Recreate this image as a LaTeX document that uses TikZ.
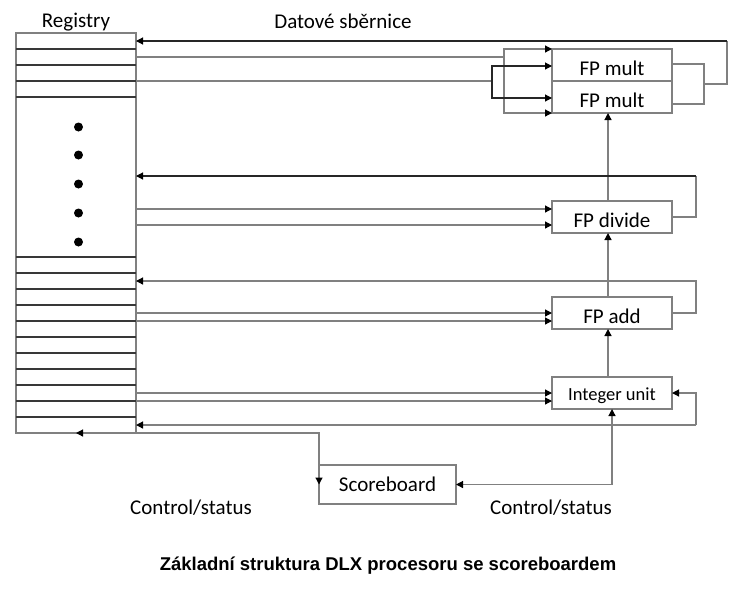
\documentclass[tikz,border=0pt]{standalone}
\usepackage{fontspec}
\setmainfont{Carlito}
\newfontfamily\capfont{Liberation Sans}
\usetikzlibrary{arrows.meta}
\begin{document}
\begin{tikzpicture}[x=1pt,y=-1pt,
  gline/.style={draw=black!50, line width=1.2pt},
  kline/.style={draw=black!85, line width=1.1pt},
  regline/.style={draw=black!78, line width=1.3pt},
  tip/.style={-{Triangle[length=7pt,width=7pt,color=black]}},
  tips/.style={{Triangle[length=7pt,width=7pt,color=black]}-{Triangle[length=7pt,width=7pt,color=black]}},
  unit/.style={draw=black!50, line width=1.2pt, minimum width=120pt, minimum height=32pt, inner sep=0pt, outer sep=0pt, font=\fontsize{21}{25}\selectfont, text height=20pt, text depth=0pt},
  lbl/.style={font=\fontsize{21}{25}\selectfont, inner sep=0pt},
]
\useasboundingbox (0,0) rectangle (735,590);

% register file
\node[unit, minimum width=120pt, minimum height=400pt] (reg) at (76,233) {};
\foreach \y in {49,65,81,97,257,273,...,417}
  \draw[regline] (reg.west |- 0,\y) -- (reg.east |- 0,\y);
\foreach \y in {127,155,184,213,242}
  \fill (78.5,\y) circle[radius=4.5pt];

% units
\node[unit] (m1) at (612,65) {FP mult};
\node[unit] (m2) at (612,97) {FP mult};
\node[unit] (div) at (612,217) {FP divide};
\node[unit] (add) at (612,313) {FP add\hspace{12pt}};
\node[unit, font=\fontsize{18.5}{22}\selectfont, text height=15.4pt] (int) at (612,393) {Integer unit\hspace{12pt}};
\node[unit, minimum width=137pt, minimum height=39pt, text height=13pt] (sb) at (387.5,484.5) {Scoreboard};

% labels
\node[lbl] (tReg) at (76,22) {Registry};
\node[lbl] (tBus) at (343,21) {Datové sběrnice};
\node[lbl] (tCs1) at (191,508) {Control/status};
\node[lbl] (tCs2) at (551,508) {Control/status};
\node[font=\capfont\bfseries\fontsize{18.5}{22}\selectfont, inner sep=0pt] (cap) at (388,566) {Základní struktura DLX procesoru se scoreboardem};

% helper coordinates
\coordinate (vx) at (608,0);
\coordinate (rx) at (696,0);
\coordinate (mo1) at (704,64);
\coordinate (mo2) at (704,104);
\coordinate (mj) at (704,84);
\coordinate (mt) at (727,84);
\coordinate (f1) at (504,57);
\coordinate (f2) at (492,81);
\coordinate (ib) at (696,425);

% FP mult outputs back to registers
\draw[gline] (m1.east |- mo1) -- (mo1) -- (mo2) -- (m2.east |- mo2);
\draw[gline] (mj) -- (mt) -- (mt |- 0,41);
\draw[kline,tip] (mt |- 0,41) -- (reg.east |- 0,41);

% FP mult inputs
\draw[gline] (reg.east |- f1) -- (f1);
\draw[gline,tip] (f1) |- (m1.north west);
\draw[gline,tip] (f1) |- (m2.south west);
\draw[gline] (reg.east |- f2) -- (f2);
\draw[kline,tip] (f2) |- (m1.west |- 0,66);
\draw[kline,tip] (f2) |- (m2.west |- 0,98);

% other unit inputs
\foreach \y in {209,225}
  \draw[gline,tip] (reg.east |- 0,\y) -- (div.west |- 0,\y);
\foreach \y in {313,321}
  \draw[gline,tip] (reg.east |- 0,\y) -- (add.west |- 0,\y);
\foreach \y in {393,401}
  \draw[gline,tip] (reg.east |- 0,\y) -- (int.west |- 0,\y);

% vertical chain
\draw[gline,tip] (int.north -| vx) -- (add.south -| vx);
\draw[gline,tip] (add.north -| vx) -- (div.south -| vx);
\draw[gline,tip] (div.north -| vx) -- (m2.south -| vx);

% outputs to registers
\draw[gline] (div.east) -| (rx |- 0,176);
\draw[kline,tip] (rx |- 0,176) -- (reg.east |- 0,176);
\draw[gline,tip] (add.east) -| (rx |- 0,281) -- (reg.east |- 0,281);
\draw[gline,tip] (ib) |- (int.east);
\draw[gline,tip] (ib) -- (reg.east |- ib);

% scoreboard control/status
\draw[gline,tips] (sb.east) -| (int.south);
\draw[gline,tips] (reg.south) -| (sb.west);
\end{tikzpicture}
\end{document}
